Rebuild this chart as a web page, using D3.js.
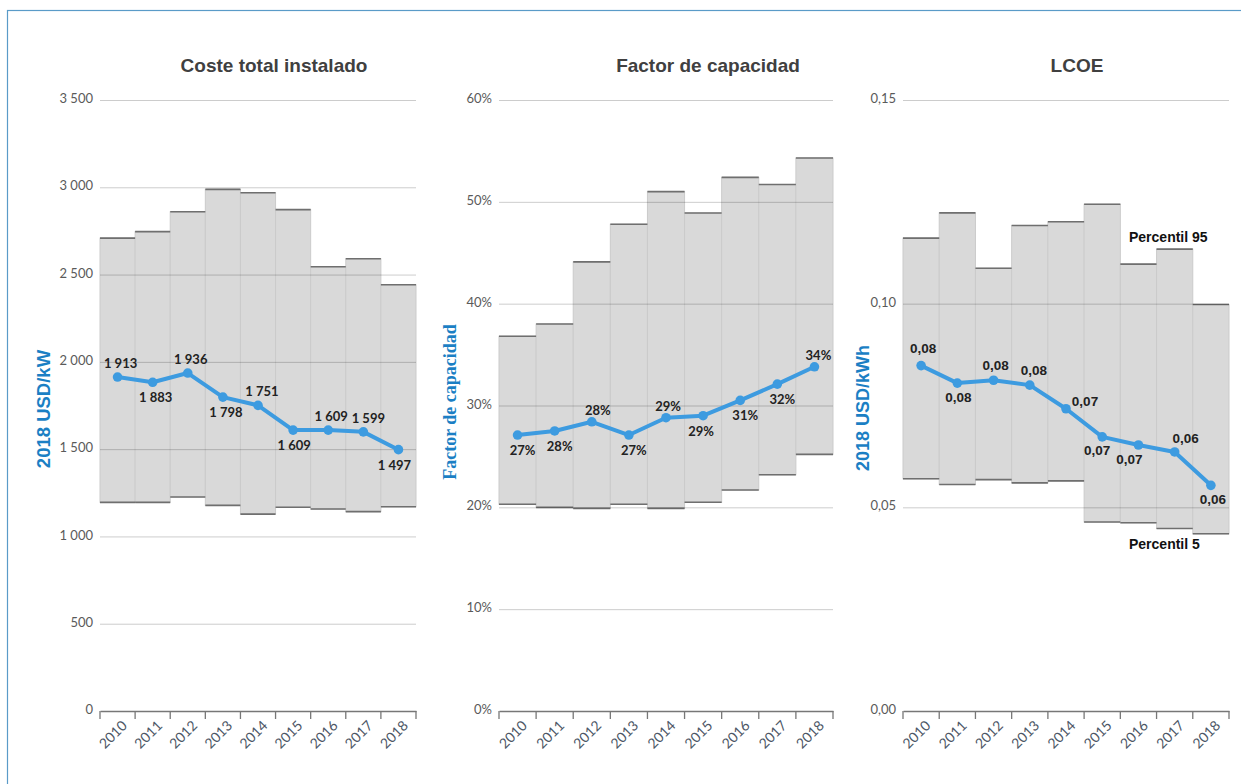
<!DOCTYPE html>
<html><head><meta charset="utf-8">
<script src="https://cdn.jsdelivr.net/npm/d3@7"></script>
<style>body{margin:0;background:#fff}svg{display:block}</style>
</head><body>
<svg id="c" width="1241" height="784"></svg>
<script>
const years = ["2010","2011","2012","2013","2014","2015","2016","2017","2018"];

const costP95 = [2709, 2746, 2860, 2988, 2969, 2872, 2545, 2591, 2442];
const costP5  = [1195, 1195, 1226, 1178, 1128, 1167, 1157, 1142, 1170];
const costAvg = [1913, 1883, 1936, 1798, 1751, 1609, 1609, 1599, 1497];
const costTicks = [0, 500, 1000, 1500, 2000, 2500, 3000, 3500];

const cfP95 = [36.8, 38.0, 44.1, 47.8, 51.0, 48.9, 52.4, 51.7, 54.3];
const cfP5  = [20.3, 20.0, 19.9, 20.3, 19.9, 20.5, 21.7, 23.2, 25.2];
const cfAvg = [27.1, 27.5, 28.4, 27.1, 28.8, 29.0, 30.5, 32.1, 33.8];
const cfTicks = [0, 10, 20, 30, 40, 50, 60];

const lcoeP95 = [0.1161, 0.1223, 0.1087, 0.1192, 0.1201, 0.1244, 0.1097, 0.1134, 0.0998];
const lcoeP5  = [0.0570, 0.0556, 0.0568, 0.0560, 0.0565, 0.0464, 0.0462, 0.0448, 0.0435];
const lcoeAvg = [0.0848, 0.0805, 0.0812, 0.0800, 0.0742, 0.0673, 0.0653, 0.0636, 0.0554];
const lcoeTicks = [0, 0.05, 0.10, 0.15];

// label side: 1 = above, -1 = below
const costSide = [1,-1,1,-1,1,-1,1,1,-1];
const cfSide   = [-1,-1,1,-1,1,-1,-1,-1,1];
const lcoeSide = [1,-1,1,1,1,-1,-1,1,-1];

const svg = d3.select("#c");
const BLUE_LINE = "#3d9be0";
const AXIS_BLUE = "#1b7fc4";

// frame
svg.append("rect").attr("x",7.5).attr("y",10.5).attr("width",1300).attr("height",900)
  .attr("fill","none").attr("stroke","#5a9bc8").attr("stroke-width",1.2);

const sep = " ";
function fmtThousands(v){
  const s = String(Math.round(v));
  return s.length>3 ? s.slice(0,s.length-3)+sep+s.slice(s.length-3) : s;
}

function panel(o){
  const g = svg.append("g");
  const x = d3.scaleBand().domain(years).range([o.x0,o.x1]).paddingInner(0).paddingOuter(0);
  const y = d3.scaleLinear().domain([0,o.yMax]).range([711,100]);
  const bw = x.bandwidth();

  // bands
  g.selectAll("rect.band").data(years).join("rect")
    .attr("x",d=>x(d)).attr("width",bw)
    .attr("y",(d,i)=>y(o.p95[i])).attr("height",(d,i)=>y(o.p5[i])-y(o.p95[i]))
    .attr("fill","#d9d9d9").attr("stroke","#cbcbcb").attr("stroke-width",1);
  g.selectAll("line.top").data(years).join("line")
    .attr("x1",d=>x(d)).attr("x2",d=>x(d)+bw)
    .attr("y1",(d,i)=>y(o.p95[i])).attr("y2",(d,i)=>y(o.p95[i]))
    .attr("stroke","#6f6f6f").attr("stroke-width",1.6);
  g.selectAll("line.bot").data(years).join("line")
    .attr("x1",d=>x(d)).attr("x2",d=>x(d)+bw)
    .attr("y1",(d,i)=>y(o.p5[i])).attr("y2",(d,i)=>y(o.p5[i]))
    .attr("stroke","#6f6f6f").attr("stroke-width",1.6);

  // grid
  const yAxis = d3.axisLeft(y).tickValues(o.ticks).tickSize(-(o.x1-o.x0)).tickPadding(7).tickFormat(o.tickFmt);
  const ga = g.append("g").attr("transform",`translate(${o.x0},0)`).call(yAxis);
  ga.select(".domain").remove();
  ga.selectAll(".tick line").attr("stroke","rgba(0,0,0,0.2)").attr("stroke-width",1)
    .filter(d=>d===0).remove();
  ga.selectAll(".tick text").attr("fill","#5a5a5a").attr("font-family","Lato, sans-serif")
    .attr("font-size",13).attr("dy","0.2em").style("white-space","pre");

  // x axis
  const xAxis = d3.axisBottom(x).tickSize(0).tickFormat(d=>d);
  const gx = g.append("g").attr("transform","translate(0,711)").call(xAxis);
  gx.select(".domain").attr("stroke","#777").attr("stroke-width",1.3);
  gx.selectAll(".tick text").attr("fill","#4d5766").attr("font-family","Lato, sans-serif")
    .attr("font-size",14).attr("text-anchor","end")
    .attr("x",0).attr("y",0).attr("dy","0.35em")
    .attr("transform","translate(7,12) rotate(-45)");
  const bounds = years.map(d=>x(d)).concat([o.x1]);
  g.selectAll("line.xt").data(bounds).join("line")
    .attr("x1",d=>d).attr("x2",d=>d).attr("y1",711).attr("y2",719)
    .attr("stroke","#777").attr("stroke-width",1.3);

  // line
  const line = d3.line().x((d,i)=>x(years[i])+bw/2).y(d=>y(d));
  g.append("path").datum(o.avg).attr("d",line).attr("fill","none")
    .attr("stroke",BLUE_LINE).attr("stroke-width",4).attr("stroke-linejoin","round");
  g.selectAll("circle.pt").data(o.avg).join("circle")
    .attr("cx",(d,i)=>x(years[i])+bw/2).attr("cy",d=>y(d)).attr("r",4.8).attr("fill",BLUE_LINE);

  // labels
  g.selectAll("text.lbl").data(o.avg).join("text")
    .attr("x",(d,i)=>x(years[i])+bw/2+o.dx[i])
    .attr("y",(d,i)=>y(d)+(o.side[i]>0?o.up:o.down)+(o.dyx?o.dyx[i]:0))
    .attr("text-anchor","middle").attr("dominant-baseline","central")
    .attr("font-family",o.lblFont).attr("font-weight","bold").attr("font-size",o.lblSize)
    .attr("fill","#222").style("white-space","pre").text(o.lblFmt);

  // title
  g.append("text").attr("x",o.tx).attr("y",65).attr("text-anchor","middle").attr("dominant-baseline","central")
    .attr("font-family","Liberation Sans, Arial, sans-serif").attr("font-weight","bold")
    .attr("font-size",19).attr("fill","#404040").text(o.title);
  // y title
  g.append("text").attr("transform",`translate(${o.ytx},${o.yty}) rotate(-90)`)
    .attr("text-anchor","middle").attr("dominant-baseline","central")
    .attr("font-family",o.ytFont).attr("font-weight","bold").attr("font-size",o.ytSize)
    .attr("fill",AXIS_BLUE).text(o.ytitle);
  return {g,x,y};
}

panel({x0:100,x1:416,yMax:3500,ticks:costTicks,tickFmt:fmtThousands,
  p95:costP95,p5:costP5,avg:costAvg,side:costSide,up:-14,down:15,
  dx:[3,3,3,3,4,1,3,5,-4],
  lblFont:"Lato, sans-serif",lblSize:13,lblFmt:fmtThousands,
  title:"Coste total instalado",tx:274,ytitle:"2018 USD/kW",ytx:43,yty:409,
  ytFont:"Liberation Sans, Arial, sans-serif",ytSize:18.5});

panel({x0:499,x1:833,yMax:60,ticks:cfTicks,tickFmt:d=>d+"%",
  p95:cfP95,p5:cfP5,avg:cfAvg,side:cfSide,up:-12,down:15,
  dx:[5,5,6,5,2,-2,5,5,4],
  lblFont:"Lato, sans-serif",lblSize:13,lblFmt:d=>Math.round(d)+"%",
  title:"Factor de capacidad",tx:708,ytitle:"Factor de capacidad",ytx:450,yty:402,
  ytFont:"Liberation Serif, DejaVu Serif, serif",ytSize:18});

const lcoeDx = [2,1,2,4,19,-5,-9,11,2];
const lcoeDy = [-2,0,0,0,8,0,0,2,0];
panel({x0:903,x1:1229,yMax:0.15,ticks:lcoeTicks,tickFmt:d=>d.toFixed(2).replace(".",","),
  p95:lcoeP95,p5:lcoeP5,avg:lcoeAvg,side:lcoeSide,up:-15,down:14,dx:lcoeDx,dyx:lcoeDy,
  lblFont:"Liberation Sans, Arial, sans-serif",lblSize:13.5,lblFmt:d=>d.toFixed(2).replace(".",","),
  title:"LCOE",tx:1077,ytitle:"2018 USD/kWh",ytx:863,yty:408,
  ytFont:"Liberation Sans, Arial, sans-serif",ytSize:18});

svg.append("text").attr("x",1129).attr("y",237).attr("dominant-baseline","central")
  .attr("font-family","Liberation Sans, Arial, sans-serif").attr("font-weight","bold")
  .attr("font-size",14).attr("fill","#111").text("Percentil 95");
svg.append("text").attr("x",1129).attr("y",544).attr("dominant-baseline","central")
  .attr("font-family","Liberation Sans, Arial, sans-serif").attr("font-weight","bold")
  .attr("font-size",14).attr("fill","#111").text("Percentil 5");
</script>
</body></html>
